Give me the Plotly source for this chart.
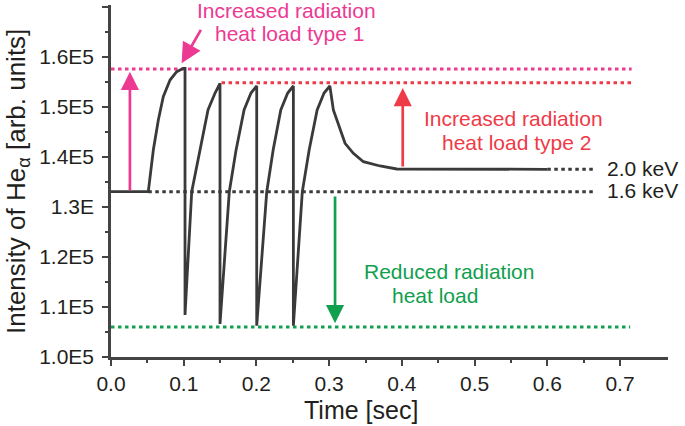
import plotly.graph_objects as go

# ---- data (time in s, intensity in arb. units) ----
time_s = [0.0, 0.0513, 0.0582, 0.0651, 0.0719, 0.0812, 0.0904, 0.0995, 0.1018,
          0.1018, 0.1110, 0.1224, 0.1334, 0.1431, 0.1499,
          0.1499, 0.1627, 0.1720, 0.1830, 0.1925, 0.2004,
          0.2004, 0.2142, 0.2230, 0.2335, 0.2430, 0.2508,
          0.2508, 0.2631, 0.2725, 0.2835, 0.2930, 0.3010,
          0.3058, 0.3219, 0.3333, 0.3471, 0.3700, 0.3930, 0.6000]
intensity = [133060, 133060, 141400, 147400, 152060, 155400, 157060, 157740, 157740,
             108400, 133060, 141400, 149400, 152800, 154740,
             106600, 133060, 141400, 149400, 152800, 154200,
             106260, 133060, 141400, 149400, 152800, 154200,
             106260, 133060, 141400, 149400, 152800, 154200,
             149400, 142740, 140740, 139060, 138200, 137600, 137540]

ext_20_t = [0.600, 0.663]
ext_20_v = [137540, 137540]
ext_16_t = [0.0513, 0.663]
ext_16_v = [133060, 133060]
type1_t = [0.0, 0.716]
type1_v = [157600, 157600]
type2_t = [0.152, 0.718]
type2_v = [154860, 154860]
reduced_t = [0.0, 0.714]
reduced_v = [106000, 106000]

x_ticks = [0.0, 0.1, 0.2, 0.3, 0.4, 0.5, 0.6, 0.7]
x_ticktext = ["0.0", "0.1", "0.2", "0.3", "0.4", "0.5", "0.6", "0.7"]
x_minor = [0.05, 0.15, 0.25, 0.35, 0.45, 0.55, 0.65]
y_ticks = [100000, 110000, 120000, 130000, 140000, 150000, 160000, 170000]
y_ticktext = ["1.0E5", "1.1E5", "1.2E5", "1.3E", "1.4E5", "1.5E5", "1.6E5", ""]

PINK = "#ec3a93"
RED = "#ef3a47"
GREEN = "#10a04e"
DARK = "#3a3a3a"
TXT = "#231f20"
FONT = "Liberation Sans, Arial, sans-serif"
DOT = "3.5px,3.5px"

fig = go.Figure()


def dotted(xs, ys, color):
    fig.add_trace(go.Scatter(x=xs, y=ys, mode="lines",
                             line=dict(color=color, width=3, dash=DOT),
                             hoverinfo="skip", showlegend=False))


dotted(type1_t, type1_v, PINK)
dotted(type2_t, type2_v, RED)
dotted(reduced_t, reduced_v, GREEN)
dotted(ext_16_t, ext_16_v, DARK)
dotted(ext_20_t, ext_20_v, DARK)

fig.add_trace(go.Scatter(x=time_s, y=intensity, mode="lines",
                         line=dict(color=DARK, width=2.8),
                         showlegend=False))

ann = []


def arrow(x0, y0, x1, y1, color, size=1.35):
    ann.append(dict(x=x1, y=y1, ax=x0, ay=y0, xref="x", yref="y",
                    axref="x", ayref="y", text="", showarrow=True,
                    arrowhead=2, arrowsize=size, arrowwidth=2.7,
                    arrowcolor=color, standoff=0, startstandoff=0))


arrow(0.026, 133060, 0.026, 157060, PINK)
arrow(0.1248, 165740, 0.0971, 158740, PINK, 1.5)
arrow(0.4012, 137800, 0.4012, 153800, RED)
arrow(0.3081, 132400, 0.3081, 106740, GREEN)


def label(x, y, text, color, anchor="center"):
    ann.append(dict(x=x, y=y, xref="x", yref="y", text=text, showarrow=False,
                    xanchor=anchor, yanchor="middle",
                    font=dict(family=FONT, size=21, color=color)))


label(0.2414, 169400, "Increased radiation", PINK)
label(0.2448, 164740, "heat load type 1", PINK)
label(0.553, 147800, "Increased radiation", RED)
label(0.558, 143000, "heat load type 2", RED)
label(0.4645, 117060, "Reduced radiation", GREEN)
label(0.4457, 112400, "heat load", GREEN)
label(0.6795, 137800, "2.0 keV", TXT, "left")
label(0.6795, 133400, "1.6 keV", TXT, "left")

# axis titles
ann.append(dict(x=(361 - 111) / 557, y=-(410 - 357) / 352, xref="paper", yref="paper",
                text="Time [sec]", showarrow=False, xanchor="center", yanchor="middle",
                font=dict(family=FONT, size=25, color=TXT)))
ann.append(dict(x=(17 - 111) / 557, y=(357 - 182) / 352, xref="paper", yref="paper",
                text="Intensity of He<sub>α</sub> [arb. units]", showarrow=False,
                textangle=-90, xanchor="center", yanchor="middle",
                font=dict(family=FONT, size=26, color=TXT)))

axis_common = dict(showgrid=False, zeroline=False, showline=True,
                   linecolor="#444444", linewidth=2.5, ticks="outside",
                   tickcolor="#444444", tickwidth=2, ticklen=6,
                   tickfont=dict(family=FONT, size=21, color=TXT))

fig.update_layout(
    width=685, height=426,
    margin=dict(l=111, r=17, t=5, b=69, autoexpand=False),
    plot_bgcolor="white", paper_bgcolor="white",
    showlegend=False,
    annotations=ann,
    xaxis=dict(range=[0, 0.766], tickmode="array", tickvals=x_ticks,
               ticktext=x_ticktext,
               minor=dict(tickmode="array", tickvals=x_minor, ticks="outside",
                          ticklen=3.5, tickwidth=2, tickcolor="#444444"),
               **axis_common),
    yaxis=dict(range=[100000, 170400], tickmode="array", tickvals=y_ticks,
               ticktext=y_ticktext, ticklabelstandoff=4,
               minor=dict(dtick=5000, tick0=100000, ticks="outside",
                          ticklen=3.5, tickwidth=2, tickcolor="#444444"),
               **axis_common),
)

fig.write_html("out.html", config={"displayModeBar": False},
               post_script="document.body.style.margin='0';document.body.style.overflow='hidden';")
